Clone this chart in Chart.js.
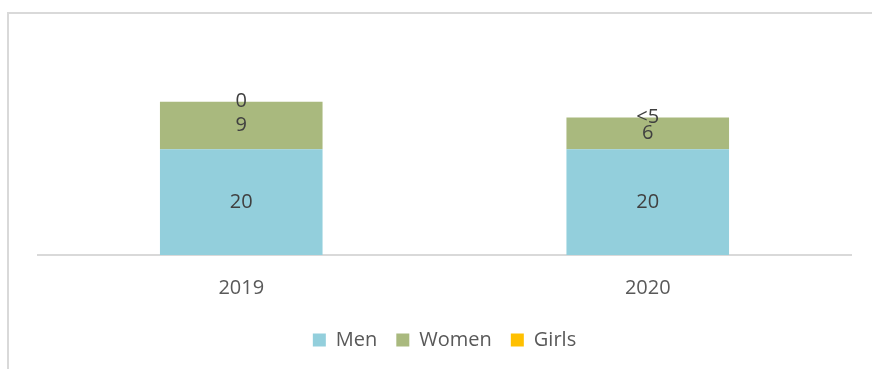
<!DOCTYPE html>
<html>
<head>
<meta charset="utf-8">
<title>Men, Women, Girls</title>
<script src="https://cdn.jsdelivr.net/npm/chart.js@4/dist/chart.umd.min.js"></script>
<style>
    body { margin: 0; background: #fff; }
    #wrap { position: relative; width: 872px; height: 369px; overflow: hidden; }
    #frame { position: absolute; left: 7px; top: 12px; width: 900px; height: 400px; border: 2px solid #d9d9d9; }
    #chart-box { position: absolute; left: 0; top: 0; width: 872px; height: 369px; }
</style>
</head>
<body>
<div id="wrap">
    <div id="frame"></div>
    <div id="chart-box"><canvas id="chart"></canvas></div>
</div>
<script>
const years = ['2019', '2020'];
const men = [20, 20];
const women = [9, 6];
const girls = [0, 0];
// text shown on each segment
const menLabels = ['20', '20'];
const womenLabels = ['9', '6'];
const girlsLabels = ['0', '<5'];

const FONT = "'Open Sans', sans-serif";

// writes the label text in the middle of every bar segment
const segmentLabels = {
    id: 'segmentLabels',
    afterDatasetsDraw(chart) {
        const ctx = chart.ctx;
        ctx.save();
        ctx.font = '20px ' + FONT;
        ctx.fillStyle = '#404040';
        ctx.textAlign = 'center';
        ctx.textBaseline = 'middle';
        chart.data.datasets.forEach((ds, i) => {
            const meta = chart.getDatasetMeta(i);
            meta.data.forEach((bar, j) => {
                const p = bar.getProps(['x', 'y', 'base'], true);
                ctx.fillText(ds.segmentText[j], p.x, (p.y + p.base) / 2);
            });
        });
        ctx.restore();
    }
};

new Chart(document.getElementById('chart'), {
    type: 'bar',
    data: {
        labels: years,
        datasets: [
            { label: 'Men', data: men, segmentText: menLabels, backgroundColor: '#93cfdc' },
            { label: 'Women', data: women, segmentText: womenLabels, backgroundColor: '#a9b97e' },
            { label: 'Girls', data: girls, segmentText: girlsLabels, backgroundColor: '#ffc000' }
        ]
    },
    options: {
        responsive: true,
        maintainAspectRatio: false,
        animation: false,
        categoryPercentage: 1,
        barPercentage: 0.4,
        layout: { padding: { left: 38, right: 21, top: 70, bottom: 9 } },
        plugins: {
            legend: {
                position: 'bottom',
                labels: {
                    boxWidth: 13,
                    boxHeight: 13,
                    padding: 19,
                    color: '#595959',
                    font: { family: FONT, size: 20 }
                }
            },
            tooltip: { enabled: false }
        },
        scales: {
            x: {
                stacked: true,
                z: 1,
                grid: { display: false, drawTicks: false },
                border: { display: true, color: '#d9d9d9', width: 2 },
                ticks: { color: '#595959', padding: 21, font: { family: FONT, size: 20 } },
                // pull the axis down a little, leaving the legend where it is
                afterFit(scale) { scale.height -= 10; }
            },
            y: {
                stacked: true,
                display: false,
                min: 0,
                max: 35
            }
        }
    },
    plugins: [segmentLabels]
});
</script>
</body>
</html>
